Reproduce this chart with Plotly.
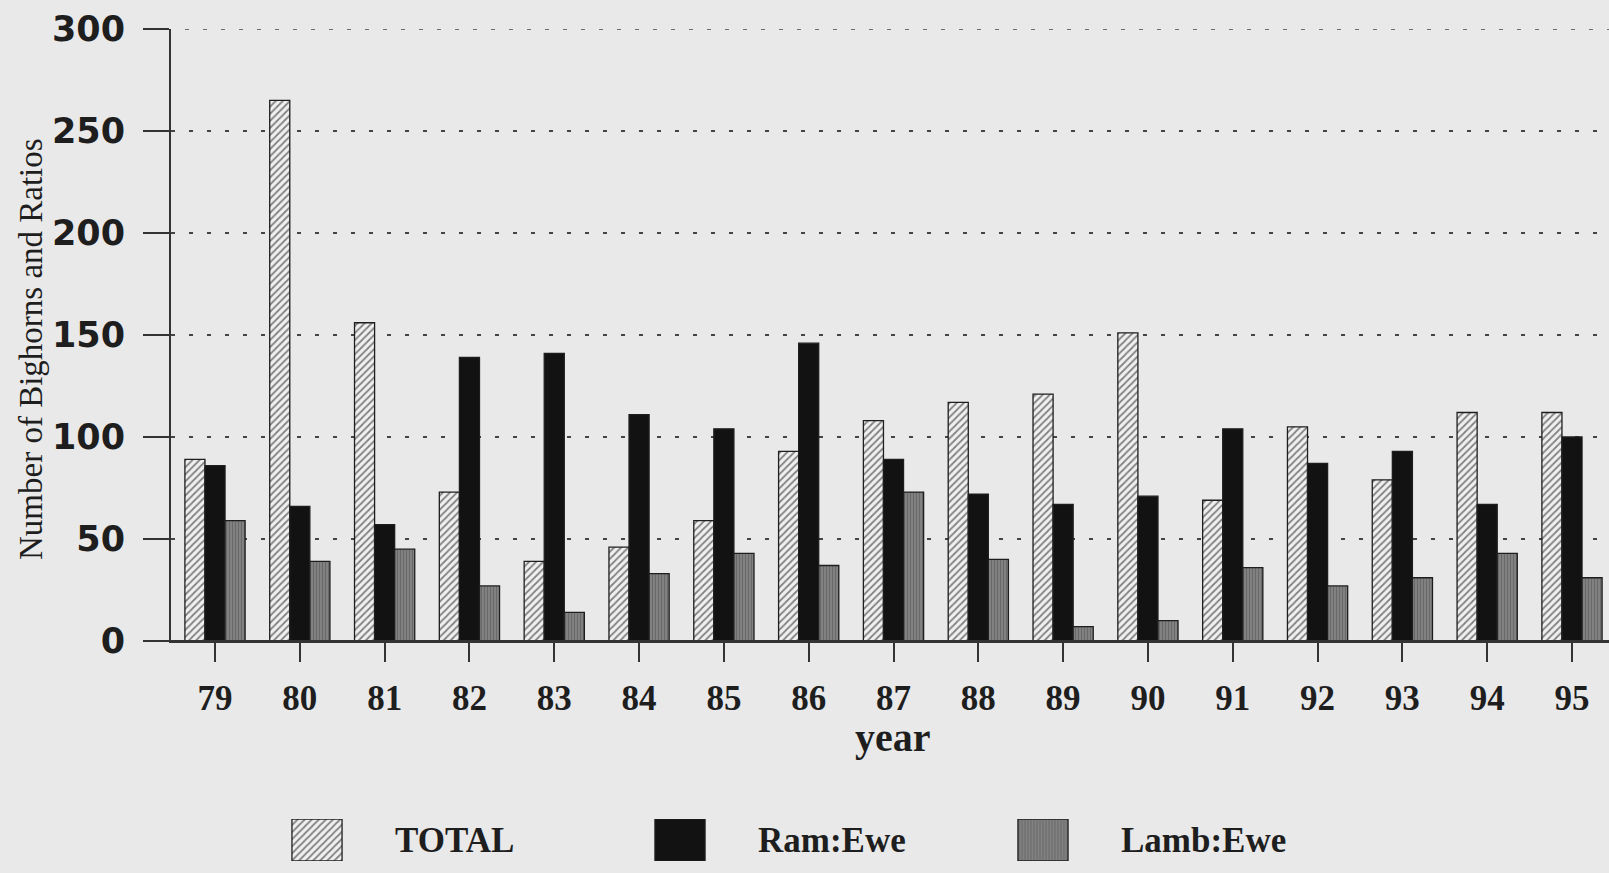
import plotly.graph_objects as go

years = ["79", "80", "81", "82", "83", "84", "85", "86", "87", "88", "89", "90", "91", "92", "93", "94", "95"]
total = [89, 265, 156, 73, 39, 46, 59, 93, 108, 117, 121, 151, 69, 105, 79, 112, 112]
ram_ewe = [86, 66, 57, 139, 141, 111, 104, 146, 89, 72, 67, 71, 104, 87, 93, 67, 100]
lamb_ewe = [59, 39, 45, 27, 14, 33, 43, 37, 73, 40, 7, 10, 36, 27, 31, 43, 31]
series_names = ["TOTAL", "Ram:Ewe", "Lamb:Ewe"]
y_ticks = [0, 50, 100, 150, 200, 250, 300]

W, H = 1609, 873
BG = "#e9e9e9"
INK = "#1e1e1e"

styles = {
    "TOTAL": dict(color="#f0f0f0", line=dict(color=INK, width=1.3),
                  pattern=dict(shape="/", fgcolor="#111111", bgcolor="#f0f0f0", size=5, solidity=0.35)),
    "Ram:Ewe": dict(color="#121212", line=dict(color=INK, width=1.3)),
    "Lamb:Ewe": dict(color="#707070", line=dict(color=INK, width=1.3),
                     pattern=dict(shape="|", fgcolor="#4e4e4e", bgcolor="#858585", size=3, solidity=0.45)),
}

fig = go.Figure()
for name, vals in zip(series_names, [total, ram_ewe, lamb_ewe]):
    fig.add_trace(go.Bar(x=years, y=vals, name=name, marker=styles[name],
                         showlegend=False, xaxis="x", yaxis="y"))

# custom legend swatches on a separate axis
for name in series_names:
    fig.add_trace(go.Bar(x=[name], y=[1], marker=styles[name], width=0.138, offset=-0.069,
                         showlegend=False, xaxis="x2", yaxis="y2", hoverinfo="skip"))

px_l, px_bottom, px_top = 171, 641, 29
cat_px = 84.8
x0 = -(215 - px_l) / cat_px
x1 = (len(years) - 1) + (W - 1572) / cat_px

fig.update_layout(
    width=W, height=H,
    margin=dict(l=0, r=0, t=0, b=0),
    paper_bgcolor=BG, plot_bgcolor=BG,
    barmode="group", bargap=0.29, bargroupgap=0,
    xaxis=dict(domain=[px_l / W, 1], range=[x0, x1], type="category",
               showline=True, linecolor="#333", linewidth=2,
               ticks="outside", ticklen=19, tickwidth=1.5, tickcolor="#333",
               ticklabelstandoff=6,
               tickfont=dict(family="Liberation Serif", size=35, color=INK, weight="bold"),
               showgrid=False, automargin=False, fixedrange=True),
    yaxis=dict(domain=[1 - px_bottom / H, 1 - px_top / H], range=[0, 300],
               tickvals=y_ticks, ticktext=[str(v) for v in y_ticks],
               showline=True, linecolor="#333", linewidth=2,
               ticks="outside", ticklen=26, tickwidth=2, tickcolor="#333",
               ticklabelstandoff=11,
               tickfont=dict(family="DejaVu Sans", size=35, color=INK, weight="bold"),
               showgrid=True, gridcolor="#444", gridwidth=1.5, griddash="4px,14px",
               zeroline=False, automargin=False, fixedrange=True),
    xaxis2=dict(domain=[135.5 / W, 1224.5 / W], range=[-0.5, 2.5], type="category",
                visible=False, fixedrange=True),
    yaxis2=dict(domain=[1 - 861 / H, 1 - 819 / H], range=[0, 1], visible=False, fixedrange=True),
    shapes=[
        dict(type="line", xref="paper", yref="y", x0=145 / W, x1=1, y0=0, y1=0,
             line=dict(color="#333", width=2)),
        dict(type="line", xref="paper", yref="y", x0=185 / W, x1=1, y0=y_ticks[-1], y1=y_ticks[-1],
             line=dict(color="#444", width=1.5, dash="4px,14px")),
    ],
)

annotations = [
    dict(text="Number of Bighorns and Ratios", textangle=-90, xref="paper", yref="paper",
         x=31 / W, y=1 - 349 / H, xanchor="center", yanchor="middle", showarrow=False,
         font=dict(family="Liberation Serif", size=33, color=INK)),
    dict(text="year", xref="paper", yref="paper", x=893 / W, y=1 - 737 / H,
         xanchor="center", yanchor="middle", showarrow=False,
         font=dict(family="Liberation Serif", size=40, color=INK, weight="bold")),
]
for name in series_names:
    annotations.append(dict(text=name, xref="x2", yref="y2", x=name, y=0.5, xanchor="left",
                            yanchor="middle", xshift=76, showarrow=False,
                            font=dict(family="Liberation Serif", size=35, color=INK, weight="bold")))
fig.update_layout(annotations=annotations)

fig.write_html("out.html", config={"displayModeBar": False},
               post_script="document.body.style.margin='0';document.body.style.overflow='hidden';")
